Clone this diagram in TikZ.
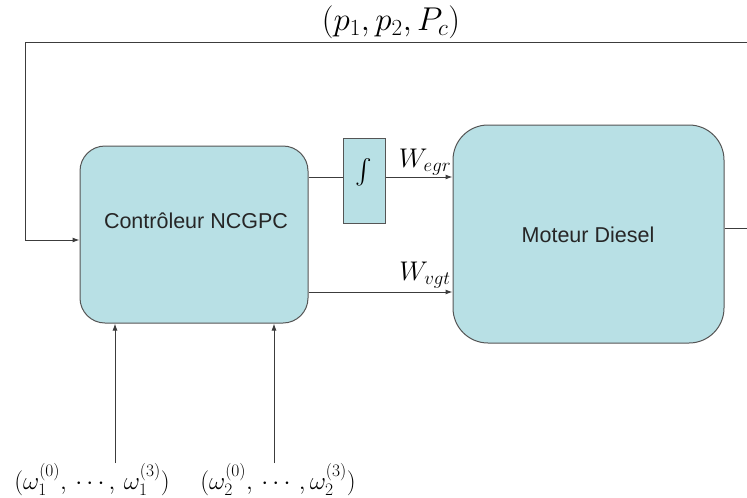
\RequirePackage{fix-cm}
\documentclass[tikz,border=0pt]{standalone}
\usepackage{exscale}
\usepackage{fontspec}
\newfontfamily\arialf{Liberation Sans}
\usetikzlibrary{arrows.meta}
\definecolor{boxfill}{RGB}{184,224,229}
\definecolor{edgec}{RGB}{85,85,85}
\definecolor{linec}{RGB}{60,60,60}
\begin{document}
\begin{tikzpicture}[x=1pt,y=-1pt,
  block/.style={draw=edgec, line width=1pt, fill=boxfill, inner sep=0pt},
  wire/.style={draw=linec, line width=1pt},
  arr/.style={wire, -{Latex[length=7pt,width=5pt]}},
  sans/.style={font=\arialf\fontsize{21.5}{25}\selectfont, text=black!85},
  mlab/.style={font=\fontsize{27}{32}\selectfont, inner sep=0pt},
  omlab/.style={font=\fontsize{25}{30}\selectfont, inner sep=0pt, anchor=base}
]
\useasboundingbox (0,0) rectangle (747,498);
\fill[white] (0,0) rectangle (747,498);

\node[block, minimum width=228pt, minimum height=177pt, rounded corners=25pt] (ctrl) at (194,234.5) {};
\node[sans] (ctrltxt) at (196,221) {Contrôleur NCGPC};

\node[block, minimum width=42pt, minimum height=85pt] (intg) at (364,180.5) {};
\node[mlab] (intsym) at (364,172) {$\int$};

\node[block, minimum width=271pt, minimum height=218pt, rounded corners=35pt] (diesel) at (588.5,234) {};
\node[sans] (dieseltxt) at (588,235) {Moteur Diesel};

\draw[wire] (ctrl.east |- 0,177) -- (intg.west |- 0,177);
\draw[arr] (intg.east |- 0,177) -- (diesel.west |- 0,177);
\node[mlab] (wegr) at (425,162) {$W_{egr}$};

\draw[arr] (ctrl.east |- 0,292) -- (diesel.west |- 0,292);
\node[mlab] (wvgt) at (425,275) {$W_{vgt}$};

\coordinate (fbr) at (748,228);
\coordinate (fbtr) at (748,42);
\coordinate (fbtl) at (25,42);
\coordinate (fbl) at (25,240);
\draw[arr] (diesel.east |- fbr) -- (fbr) -- (fbtr) -- (fbtl) -- (fbl) -- (ctrl.west |- fbl);
\node[mlab, font=\fontsize{33}{38}\selectfont] (ptop) at (391,22) {$(p_1,p_2,P_c)$};

\coordinate (in1) at (115,463);
\coordinate (in2) at (274,463);
\draw[arr] (in1) -- (ctrl.south -| in1);
\draw[arr] (in2) -- (ctrl.south -| in2);
\node[omlab] (om1) at (92,489) {$(\omega_1^{(0)},\,\cdots,\,\omega_1^{(3)})$};
\node[omlab] (om2) at (278,489) {$(\omega_2^{(0)},\,\cdots\,,\omega_2^{(3)})$};
\end{tikzpicture}
\end{document}
